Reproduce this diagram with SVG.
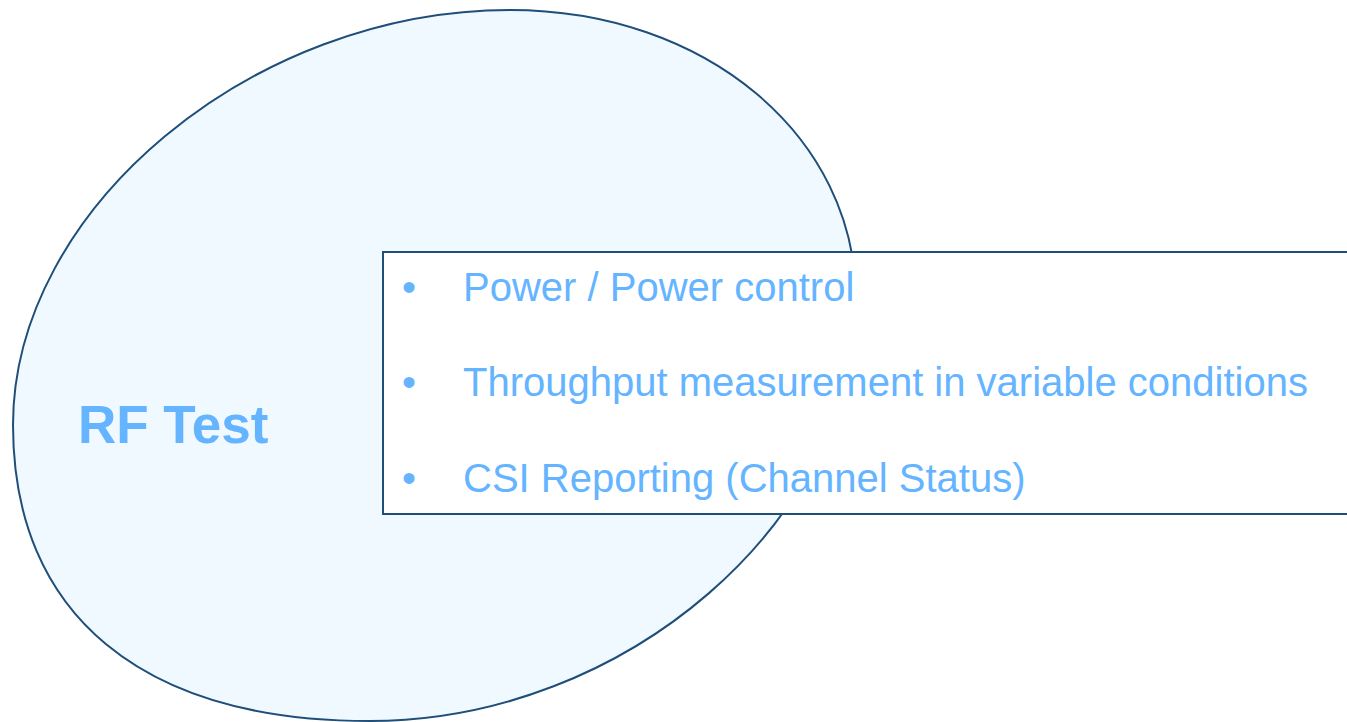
<svg xmlns="http://www.w3.org/2000/svg" width="1347" height="722" viewBox="0 0 1347 722">
  <style>
    .shape { stroke: #1f4e79; stroke-width: 2; }
    .item { font-family: "Liberation Sans", Arial, sans-serif; font-size: 40px; fill: #64b4ff; }
    .title { font-family: "Liberation Sans", Arial, sans-serif; font-size: 53px; font-weight: bold; fill: #64b4ff; }
  </style>
  <rect width="1347" height="722" fill="#ffffff"/>
  <g id="rf-test">
    <path class="shape" fill="#eff9ff" d="M510,10 C705.5,10 856,136.2 856,300 C856,521 625.2,721 370,721 C141.5,721 13,614.4 13,425 C13,209.2 251.6,10 510,10 Z"/>
    <text class="title" x="78" y="443">RF Test</text>
  </g>
  <g id="test-items">
    <rect class="shape" x="383" y="252" width="980" height="262" fill="#ffffff"/>
    <text class="item" x="409" y="301" text-anchor="middle">•</text>
    <text class="item" x="463" y="301">Power / Power control</text>
    <text class="item" x="409" y="396" text-anchor="middle">•</text>
    <text class="item" x="463" y="396">Throughput measurement in variable conditions</text>
    <text class="item" x="409" y="492" text-anchor="middle">•</text>
    <text class="item" x="463" y="492">CSI Reporting (Channel Status)</text>
  </g>
  <g id="connectors"/>
</svg>
